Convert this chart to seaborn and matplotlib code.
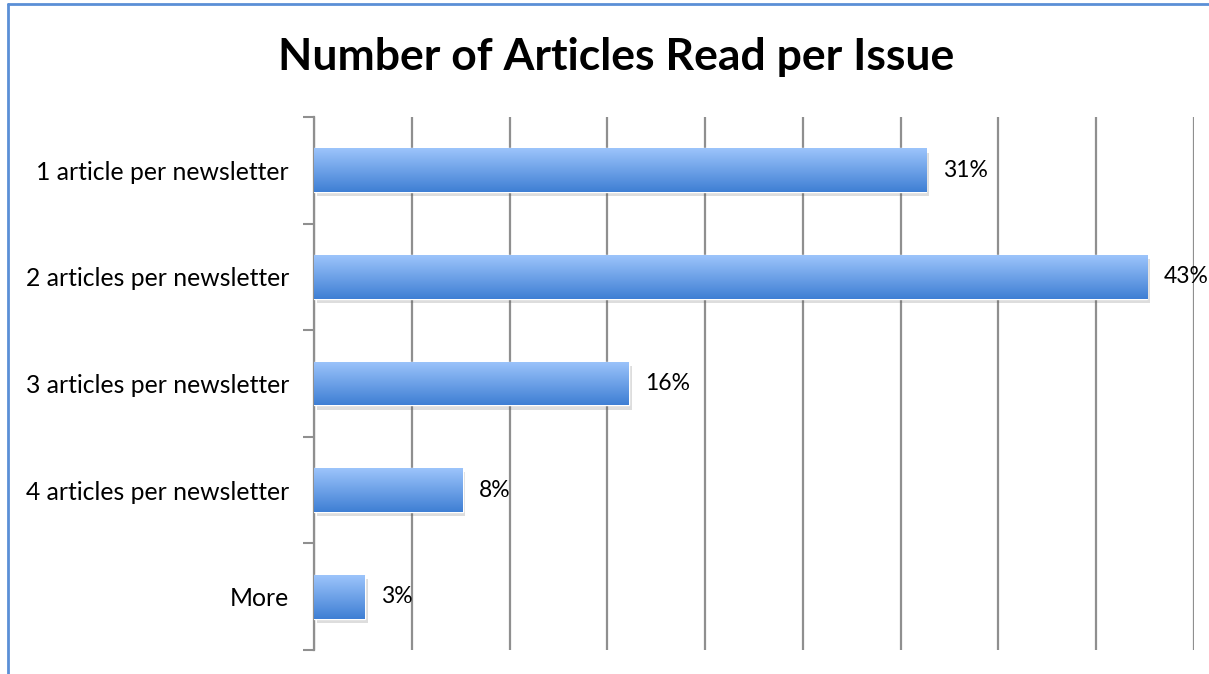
import numpy as np
import seaborn as sns
import matplotlib.pyplot as plt
from matplotlib.lines import Line2D
from matplotlib import patheffects as pe
from matplotlib.colors import LinearSegmentedColormap

# data
categories = ['1 article per newsletter', '2 articles per newsletter',
              '3 articles per newsletter', '4 articles per newsletter', 'More']
shares = [0.313, 0.426, 0.161, 0.076, 0.026]
title = 'Number of Articles Read per Issue'

sns.set_style('white')
plt.rcParams['font.family'] = ['Lato', 'DejaVu Sans']
plt.rcParams['text.color'] = 'black'
plt.rcParams['ytick.labelcolor'] = 'black'

fig = plt.figure(figsize=(12.09, 6.74), dpi=100)
ax = fig.add_axes([314 / 1209, 1 - 650 / 674, 880 / 1209, 533 / 674])

sns.barplot(x=shares, y=categories, orient='h', color='#6a9fe8',
            width=0.41, ax=ax, zorder=3)

# gradient fill (light on top, darker below) + soft shadow on each bar
grad = LinearSegmentedColormap.from_list('bar', ['#9cc4fb', '#3f7fd4'])
for p in ax.patches:
    p.set_path_effects([pe.SimplePatchShadow(offset=(2, -3), alpha=0.2,
                                             shadow_rgbFace='#555555'),
                        pe.Normal()])
    x0, y0, w, h = p.get_x(), p.get_y(), p.get_width(), p.get_height()
    img = ax.imshow(np.linspace(0, 1, 100).reshape(-1, 1), cmap=grad,
                    aspect='auto', extent=[x0, x0 + w, y0 + h, y0],
                    origin='upper', zorder=4)
    img.set_clip_path(p)

for i, v in enumerate(shares):
    ax.annotate(f'{v:.0%}', (v, i), xytext=(12, 0), textcoords='offset points',
                va='center', ha='left', fontsize=16.5, color='black', zorder=6)

ax.set_xlim(0, 0.45)
ax.set_ylim(4.5, -0.5)
ax.set_xticks(np.arange(0, 0.451, 0.05))
ax.set_xticklabels([])
ax.tick_params(axis='x', length=0)
ax.grid(axis='x', color='#8f8f8f', linewidth=1.6, zorder=0)
ax.set_axisbelow(True)
ax.set_yticks(range(len(categories)), categories, fontsize=17.8)
ax.set_yticks(np.arange(-0.5, 5, 1), minor=True)
ax.tick_params(axis='y', which='major', length=0, pad=18, labelcolor='black')
ax.tick_params(axis='y', which='minor', length=8, width=1.5, color='#8f8f8f', left=True)
for s in ['top', 'right', 'bottom']:
    ax.spines[s].set_visible(False)
ax.spines['left'].set_color('#8f8f8f')
ax.spines['left'].set_linewidth(1.6)
ax.set_xlabel('')
ax.set_ylabel('')

fig.text(616 / 1209, 1 - 57 / 674, title, ha='center', va='center',
         fontsize=32, fontweight='bold', color='black')

# chart-area border (only left and top edges fall inside the picture)
fig.add_artist(Line2D([8 / 1209, 8 / 1209], [0, 1 - 4 / 674], color='#5b8fd6', linewidth=2))
fig.add_artist(Line2D([8 / 1209, 1], [1 - 4 / 674, 1 - 4 / 674], color='#5b8fd6', linewidth=2))

fig.savefig('out.png', dpi=100)
